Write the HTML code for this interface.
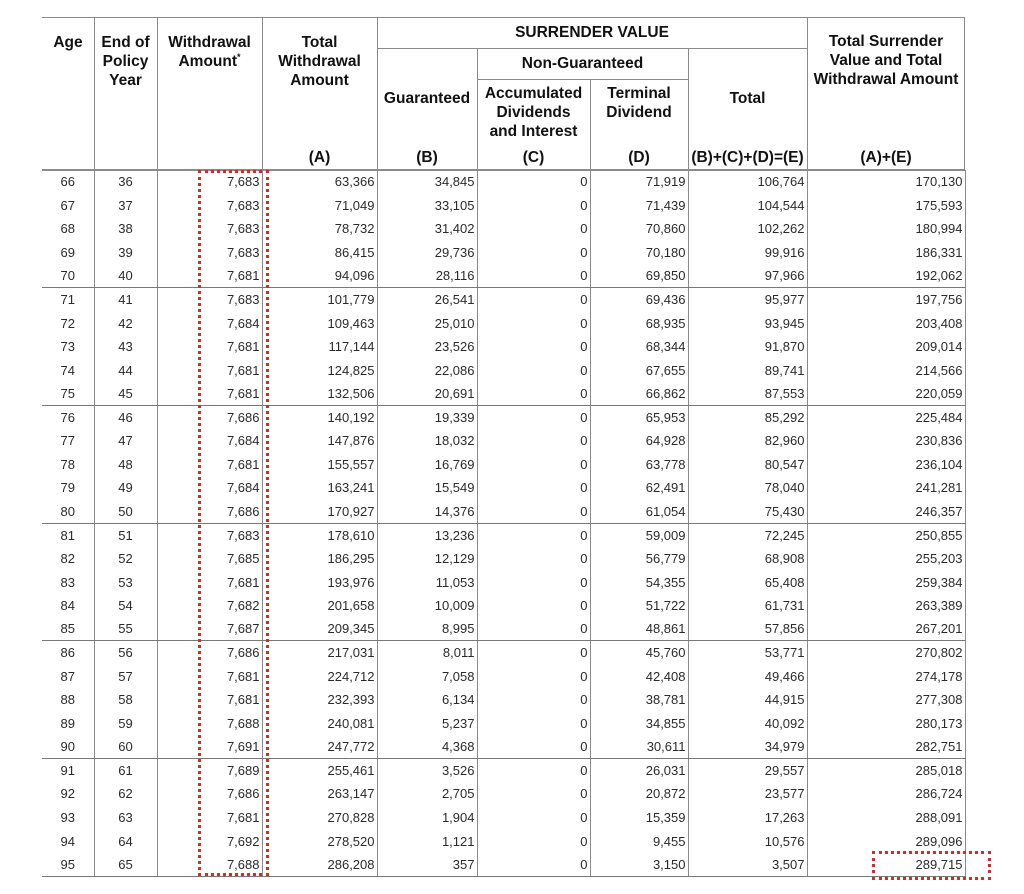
<!DOCTYPE html>
<html><head><meta charset="utf-8"><style>
html,body{margin:0;padding:0;background:#fff;}
body{width:1024px;height:894px;position:relative;overflow:hidden;font-family:"Liberation Sans",Arial,sans-serif;color:#222;}
.h{position:absolute;font-weight:bold;font-size:15.5px;line-height:19px;text-align:center;color:#111;}
.l{position:absolute;background:#8a8a8a;}
table{position:absolute;left:42px;top:170px;border-collapse:collapse;table-layout:fixed;font-size:13px;}
td{height:23.55px;padding:0 2px 0 0;border-right:1px solid #8a8a8a;text-align:right;white-space:nowrap;box-sizing:border-box;color:#2a2a2a;}
td:nth-child(1),td:nth-child(2){text-align:center;padding:0;}
tr.g td{border-bottom:1.5px solid #777;}
.box{position:absolute;border:3px dotted #d42a2a;box-sizing:border-box;}
</style></head><body>
<div class="l" style="left:42px;top:17px;width:923px;height:1px"></div>
<div class="l" style="left:377px;top:48px;width:430px;height:1px"></div>
<div class="l" style="left:477px;top:79px;width:211px;height:1px"></div>
<div class="l" style="left:42px;top:169px;width:923px;height:1.5px"></div>
<div class="l" style="left:94px;top:17px;width:1px;height:152px"></div>
<div class="l" style="left:157px;top:17px;width:1px;height:152px"></div>
<div class="l" style="left:262px;top:17px;width:1px;height:152px"></div>
<div class="l" style="left:377px;top:17px;width:1px;height:152px"></div>
<div class="l" style="left:807px;top:17px;width:1px;height:152px"></div>
<div class="l" style="left:964px;top:17px;width:1px;height:152px"></div>
<div class="l" style="left:477px;top:48px;width:1px;height:121px"></div>
<div class="l" style="left:590px;top:79px;width:1px;height:90px"></div>
<div class="l" style="left:688px;top:48px;width:1px;height:121px"></div>
<div class="h" style="left:42px;top:33px;width:52px">Age</div>
<div class="h" style="left:94px;top:33px;width:63px">End of<br>Policy<br>Year</div>
<div class="h" style="left:157px;top:33px;width:105px">Withdrawal<br>Amount<sup style="font-size:9px;line-height:0">*</sup></div>
<div class="h" style="left:262px;top:33px;width:115px">Total<br>Withdrawal<br>Amount</div>
<div class="h" style="left:377px;top:23px;width:430px">SURRENDER VALUE</div>
<div class="h" style="left:477px;top:54px;width:211px">Non-Guaranteed</div>
<div class="h" style="left:377px;top:89px;width:100px">Guaranteed</div>
<div class="h" style="left:477px;top:84px;width:113px">Accumulated<br>Dividends<br>and Interest</div>
<div class="h" style="left:590px;top:84px;width:98px">Terminal<br>Dividend</div>
<div class="h" style="left:688px;top:89px;width:119px">Total</div>
<div class="h" style="left:807px;top:32px;width:158px">Total Surrender<br>Value and Total<br>Withdrawal Amount</div>
<div class="h" style="left:262px;top:148px;width:115px">(A)</div>
<div class="h" style="left:377px;top:148px;width:100px">(B)</div>
<div class="h" style="left:477px;top:148px;width:113px">(C)</div>
<div class="h" style="left:590px;top:148px;width:98px">(D)</div>
<div class="h" style="left:688px;top:148px;width:119px">(B)+(C)+(D)=(E)</div>
<div class="h" style="left:807px;top:148px;width:158px">(A)+(E)</div>
<table>
<colgroup><col style="width:52px"><col style="width:63px"><col style="width:105px"><col style="width:115px"><col style="width:100px"><col style="width:113px"><col style="width:98px"><col style="width:119px"><col style="width:158px"></colgroup>
<tr><td>66</td><td>36</td><td>7,683</td><td>63,366</td><td>34,845</td><td>0</td><td>71,919</td><td>106,764</td><td>170,130</td></tr>
<tr><td>67</td><td>37</td><td>7,683</td><td>71,049</td><td>33,105</td><td>0</td><td>71,439</td><td>104,544</td><td>175,593</td></tr>
<tr><td>68</td><td>38</td><td>7,683</td><td>78,732</td><td>31,402</td><td>0</td><td>70,860</td><td>102,262</td><td>180,994</td></tr>
<tr><td>69</td><td>39</td><td>7,683</td><td>86,415</td><td>29,736</td><td>0</td><td>70,180</td><td>99,916</td><td>186,331</td></tr>
<tr class="g"><td>70</td><td>40</td><td>7,681</td><td>94,096</td><td>28,116</td><td>0</td><td>69,850</td><td>97,966</td><td>192,062</td></tr>
<tr><td>71</td><td>41</td><td>7,683</td><td>101,779</td><td>26,541</td><td>0</td><td>69,436</td><td>95,977</td><td>197,756</td></tr>
<tr><td>72</td><td>42</td><td>7,684</td><td>109,463</td><td>25,010</td><td>0</td><td>68,935</td><td>93,945</td><td>203,408</td></tr>
<tr><td>73</td><td>43</td><td>7,681</td><td>117,144</td><td>23,526</td><td>0</td><td>68,344</td><td>91,870</td><td>209,014</td></tr>
<tr><td>74</td><td>44</td><td>7,681</td><td>124,825</td><td>22,086</td><td>0</td><td>67,655</td><td>89,741</td><td>214,566</td></tr>
<tr class="g"><td>75</td><td>45</td><td>7,681</td><td>132,506</td><td>20,691</td><td>0</td><td>66,862</td><td>87,553</td><td>220,059</td></tr>
<tr><td>76</td><td>46</td><td>7,686</td><td>140,192</td><td>19,339</td><td>0</td><td>65,953</td><td>85,292</td><td>225,484</td></tr>
<tr><td>77</td><td>47</td><td>7,684</td><td>147,876</td><td>18,032</td><td>0</td><td>64,928</td><td>82,960</td><td>230,836</td></tr>
<tr><td>78</td><td>48</td><td>7,681</td><td>155,557</td><td>16,769</td><td>0</td><td>63,778</td><td>80,547</td><td>236,104</td></tr>
<tr><td>79</td><td>49</td><td>7,684</td><td>163,241</td><td>15,549</td><td>0</td><td>62,491</td><td>78,040</td><td>241,281</td></tr>
<tr class="g"><td>80</td><td>50</td><td>7,686</td><td>170,927</td><td>14,376</td><td>0</td><td>61,054</td><td>75,430</td><td>246,357</td></tr>
<tr><td>81</td><td>51</td><td>7,683</td><td>178,610</td><td>13,236</td><td>0</td><td>59,009</td><td>72,245</td><td>250,855</td></tr>
<tr><td>82</td><td>52</td><td>7,685</td><td>186,295</td><td>12,129</td><td>0</td><td>56,779</td><td>68,908</td><td>255,203</td></tr>
<tr><td>83</td><td>53</td><td>7,681</td><td>193,976</td><td>11,053</td><td>0</td><td>54,355</td><td>65,408</td><td>259,384</td></tr>
<tr><td>84</td><td>54</td><td>7,682</td><td>201,658</td><td>10,009</td><td>0</td><td>51,722</td><td>61,731</td><td>263,389</td></tr>
<tr class="g"><td>85</td><td>55</td><td>7,687</td><td>209,345</td><td>8,995</td><td>0</td><td>48,861</td><td>57,856</td><td>267,201</td></tr>
<tr><td>86</td><td>56</td><td>7,686</td><td>217,031</td><td>8,011</td><td>0</td><td>45,760</td><td>53,771</td><td>270,802</td></tr>
<tr><td>87</td><td>57</td><td>7,681</td><td>224,712</td><td>7,058</td><td>0</td><td>42,408</td><td>49,466</td><td>274,178</td></tr>
<tr><td>88</td><td>58</td><td>7,681</td><td>232,393</td><td>6,134</td><td>0</td><td>38,781</td><td>44,915</td><td>277,308</td></tr>
<tr><td>89</td><td>59</td><td>7,688</td><td>240,081</td><td>5,237</td><td>0</td><td>34,855</td><td>40,092</td><td>280,173</td></tr>
<tr class="g"><td>90</td><td>60</td><td>7,691</td><td>247,772</td><td>4,368</td><td>0</td><td>30,611</td><td>34,979</td><td>282,751</td></tr>
<tr><td>91</td><td>61</td><td>7,689</td><td>255,461</td><td>3,526</td><td>0</td><td>26,031</td><td>29,557</td><td>285,018</td></tr>
<tr><td>92</td><td>62</td><td>7,686</td><td>263,147</td><td>2,705</td><td>0</td><td>20,872</td><td>23,577</td><td>286,724</td></tr>
<tr><td>93</td><td>63</td><td>7,681</td><td>270,828</td><td>1,904</td><td>0</td><td>15,359</td><td>17,263</td><td>288,091</td></tr>
<tr><td>94</td><td>64</td><td>7,692</td><td>278,520</td><td>1,121</td><td>0</td><td>9,455</td><td>10,576</td><td>289,096</td></tr>
<tr class="g"><td>95</td><td>65</td><td>7,688</td><td>286,208</td><td>357</td><td>0</td><td>3,150</td><td>3,507</td><td>289,715</td></tr>
</table>
<div class="box" style="left:198px;top:170px;width:71px;height:706px"></div>
<div class="box" style="left:872px;top:851px;width:119px;height:29px"></div>
</body></html>
